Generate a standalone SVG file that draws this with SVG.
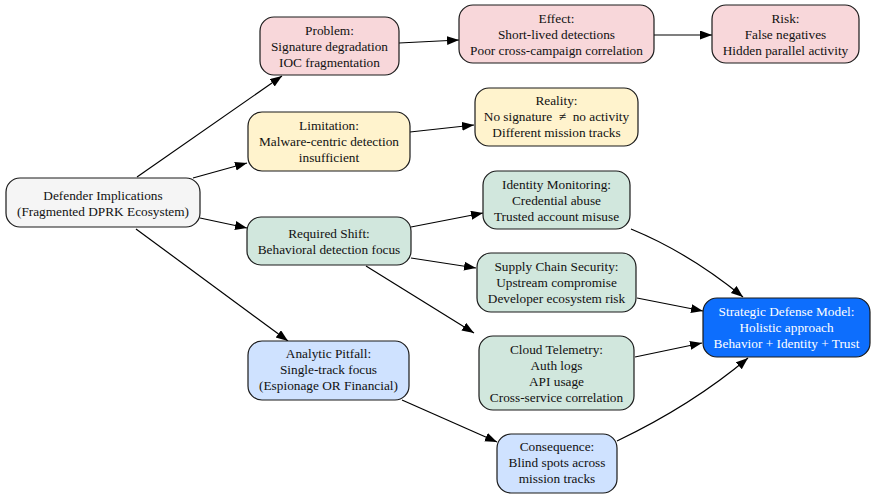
<svg xmlns="http://www.w3.org/2000/svg" width="876" height="499" viewBox="0 0 876 499">
<defs>
<marker id="ah" markerUnits="userSpaceOnUse" markerWidth="14" markerHeight="10" refX="12" refY="4.5" orient="auto">
<path d="M0,0 L12,4.5 L0,9 z" fill="#000"/>
</marker>
<style>
.n rect{stroke:#1a1a1a;stroke-width:1.2}
.pink{fill:#f8d7da}.yel{fill:#fff3cd}.grn{fill:#d1e7dd}.blu{fill:#cfe2ff}.gry{fill:#f5f5f5}.str{fill:#0d6efd}
text{font-family:"Liberation Serif","Times New Roman","DejaVu Serif",serif;font-size:13.3px;text-anchor:middle;fill:#111}
.w{fill:#fff}
#edges path{fill:none;stroke:#000;stroke-width:1.2;marker-end:url(#ah)}
</style>
</defs>
<rect width="876" height="499" fill="#fff"/>
<g id="edges">
<path d="M137,177 L282,76"/>
<path d="M193,178 L247,163"/>
<path d="M200,218 L247,228"/>
<path d="M136,229 L288,341"/>
<path d="M399,43 L459,40"/>
<path d="M654,35 L712,35"/>
<path d="M410,132 L474,125"/>
<path d="M411,227 L483,213"/>
<path d="M411,258 L476,268"/>
<path d="M366,266 L474,333"/>
<path d="M631,229 C670,245 710,270 743,297"/>
<path d="M637,298 L703,311"/>
<path d="M635,357 L702,343"/>
<path d="M402,400 L497,442"/>
<path d="M617,441 C665,418 710,390 748,358"/>
</g>
<g id="defender" class="n"><rect class="gry" x="6" y="178" width="194" height="49" rx="14"/>
<text x="103" y="200">Defender Implications</text><text x="103" y="216">(Fragmented DPRK Ecosystem)</text></g>
<g id="problem" class="n"><rect class="pink" x="260" y="17" width="139" height="58" rx="14"/>
<text x="329.5" y="35">Problem:</text><text x="329.5" y="51">Signature degradation</text><text x="329.5" y="67">IOC fragmentation</text></g>
<g id="effect" class="n"><rect class="pink" x="459" y="5" width="195" height="58" rx="14"/>
<text x="556.5" y="23">Effect:</text><text x="556.5" y="39">Short-lived detections</text><text x="556.5" y="55">Poor cross-campaign correlation</text></g>
<g id="risk" class="n"><rect class="pink" x="712" y="5" width="147" height="58" rx="14"/>
<text x="785.5" y="23">Risk:</text><text x="785.5" y="39">False negatives</text><text x="785.5" y="55">Hidden parallel activity</text></g>
<g id="limitation" class="n"><rect class="yel" x="248" y="112" width="162" height="59" rx="14"/>
<text x="329" y="130">Limitation:</text><text x="329" y="146">Malware-centric detection</text><text x="329" y="162">insufficient</text></g>
<g id="reality" class="n"><rect class="yel" x="475" y="88" width="163" height="58" rx="14"/>
<text x="556.5" y="105">Reality:</text><text x="556.5" y="121" xml:space="preserve">No signature  ≠  no activity</text><text x="556.5" y="137">Different mission tracks</text></g>
<g id="identity" class="n"><rect class="grn" x="483" y="171" width="147" height="58" rx="14"/>
<text x="556.5" y="189">Identity Monitoring:</text><text x="556.5" y="205">Credential abuse</text><text x="556.5" y="221">Trusted account misuse</text></g>
<g id="shift" class="n"><rect class="grn" x="247" y="217" width="164" height="48" rx="14"/>
<text x="329" y="238">Required Shift:</text><text x="329" y="254">Behavioral detection focus</text></g>
<g id="supply" class="n"><rect class="grn" x="477" y="253" width="159" height="59" rx="14"/>
<text x="556.5" y="271">Supply Chain Security:</text><text x="556.5" y="287">Upstream compromise</text><text x="556.5" y="303">Developer ecosystem risk</text></g>
<g id="strategic" class="n"><rect class="str" x="703" y="298" width="167" height="59" rx="14"/>
<text class="w" x="786.5" y="316">Strategic Defense Model:</text><text class="w" x="786.5" y="332">Holistic approach</text><text class="w" x="786.5" y="348">Behavior + Identity + Trust</text></g>
<g id="cloud" class="n"><rect class="grn" x="479" y="336" width="155" height="74" rx="14"/>
<text x="556.5" y="354">Cloud Telemetry:</text><text x="556.5" y="370">Auth logs</text><text x="556.5" y="386">API usage</text><text x="556.5" y="402">Cross-service correlation</text></g>
<g id="pitfall" class="n"><rect class="blu" x="248" y="341" width="161" height="59" rx="14"/>
<text x="328.5" y="358">Analytic Pitfall:</text><text x="328.5" y="374">Single-track focus</text><text x="328.5" y="390">(Espionage OR Financial)</text></g>
<g id="consequence" class="n"><rect class="blu" x="497" y="434" width="120" height="59" rx="14"/>
<text x="557" y="451">Consequence:</text><text x="557" y="467">Blind spots across</text><text x="557" y="483">mission tracks</text></g>
</svg>
